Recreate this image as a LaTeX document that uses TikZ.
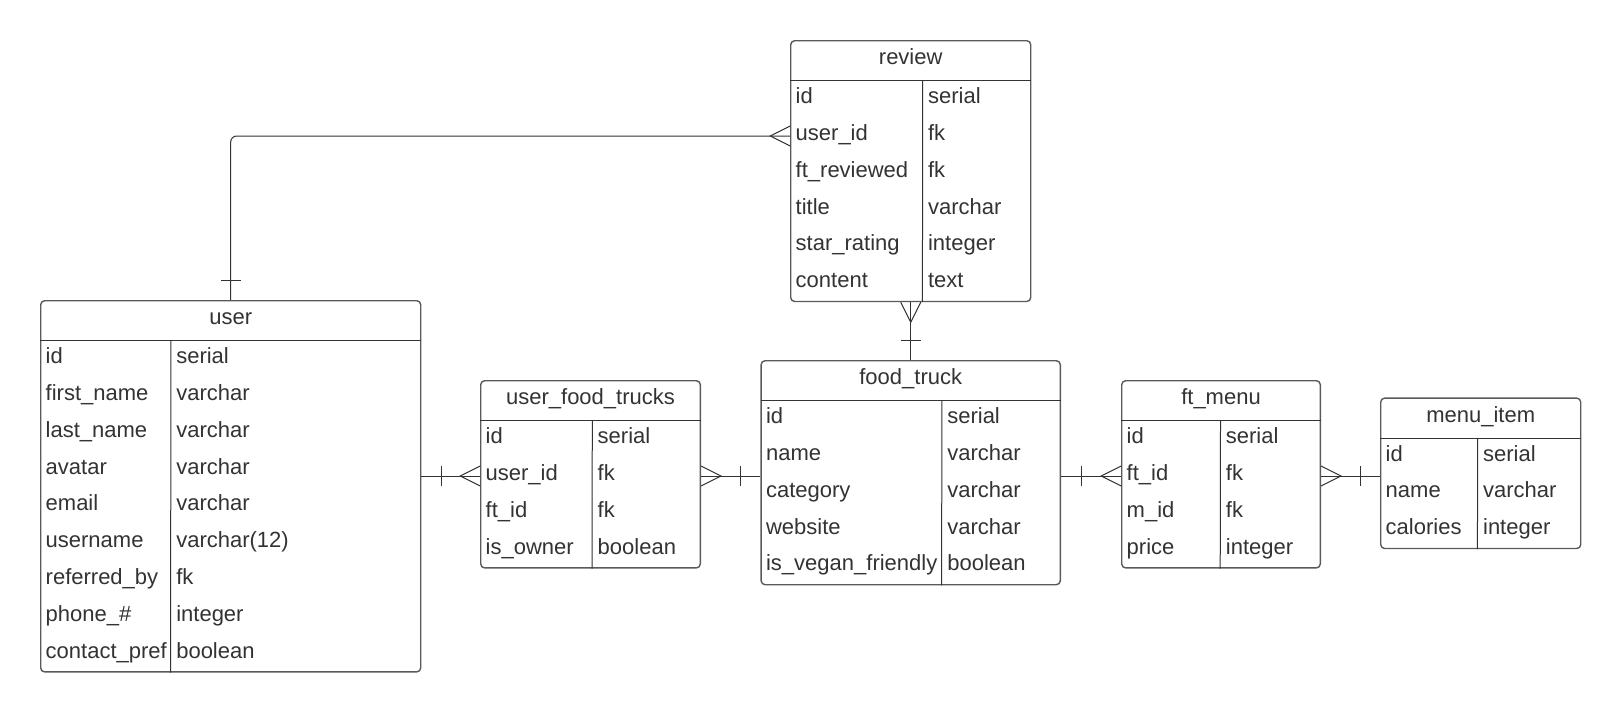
\documentclass[tikz,border=0pt]{standalone}
\usepackage{fontspec}
\setmainfont{Liberation Sans}
\usepackage{tikz}
\usetikzlibrary{positioning, decorations.markings}

\definecolor{inkc}{HTML}{333333}
\definecolor{framec}{HTML}{5A5A5A}

\tikzset{
  erfont/.style={font=\fontsize{11}{13}\selectfont, text=inkc, text height=8pt, text depth=3.5pt, inner sep=0pt},
  tblbox/.style={draw=framec, line width=0.7pt, rounded corners=2pt, inner sep=0pt},
  tbltitle/.style={erfont, minimum height=20pt},
  rowcell/.style={inner sep=0pt, outer sep=0pt, minimum height=18.4pt},
  field/.style={erfont, anchor=west},
  divider/.style={draw=inkc, line width=0.5pt},
  onemany/.style={draw=inkc, line width=0.5pt, rounded corners=3pt, postaction={decorate},
    decoration={markings,
      mark=at position 10pt with {\draw[inkc, line width=0.5pt, sharp corners] (0,-5pt) -- (0,5pt);},
      mark=at position -10pt with {\draw[inkc, line width=0.5pt, sharp corners] (10pt,5pt) -- (0,0) -- (10pt,-5pt);}}}
}

% #1 name, #2 top left, #3 width, #4 key column, #5 rows, #6 title, #7 fields
\newcommand{\ertable}[7]{%
  \node[tblbox, anchor=north west, minimum width=#3, minimum height={20pt+#5*18.4pt}] (#1) at #2 {};
  \node[tbltitle, anchor=north, minimum width=#3] (#1-title) at (#1.north) {#6};
  \draw[divider] (#1-title.south west) -- (#1-title.south east);
  \foreach \fname/\ftype [count=\i] in {#7} {
    \node[rowcell, anchor=north west, minimum width=#4] (#1-\i) at ([yshift={-(\i-1)*18.4pt}]#1-title.south west) {};
    \node[field] at ([xshift=2.5pt]#1-\i.west) {\fname};
    \node[field] at ([xshift=2.5pt]#1-\i.east) {\ftype};
  }
  \draw[divider] ([xshift=#4]#1-title.south west) -- ([xshift=#4]#1.south west);
}

\begin{document}
\begin{tikzpicture}[x=1pt, y=1pt]
	\path[use as bounding box, fill=white] (0,0) rectangle (810,-356.5);
	
	% Define tables
	\ertable{user}{(20,-150)}{190pt}{65.3pt}{9}{user}{id/serial, first\_name/varchar, last\_name/varchar, avatar/varchar, email/varchar, username/varchar(12), referred\_by/fk, phone\_\#/integer, contact\_pref/boolean}
	\ertable{uft}{(240,-190)}{109.8pt}{56pt}{4}{user\_food\_trucks}{id/serial, user\_id/fk, ft\_id/fk, is\_owner/boolean}
	\ertable{review}{(395,-20)}{120pt}{66.2pt}{6}{review}{id/serial, user\_id/fk, ft\_reviewed/fk, title/varchar, star\_rating/integer, content/text}
	\ertable{truck}{(380.2,-180)}{149.6pt}{90.6pt}{5}{food\_truck}{id/serial, name/varchar, category/varchar, website/varchar, is\_vegan\_friendly/boolean}
	\ertable{ftmenu}{(560.5,-190)}{99.3pt}{49.6pt}{4}{ft\_menu}{id/serial, ft\_id/fk, m\_id/fk, price/integer}
	\ertable{menuitem}{(690,-198.7)}{100pt}{48.7pt}{3}{menu\_item}{id/serial, name/varchar, calories/integer}
	
	% Relations, drawn from the one side to the many side
	\draw[onemany] (user.north) |- (review-2.west);
	\draw[onemany] (user.east |- uft-2.west) -- (uft-2.west);
	\draw[onemany] (truck.west |- uft-2.east) -- (uft.east |- uft-2.east);
	\draw[onemany] (truck.north) -- (review.south);
	\draw[onemany] (truck.east |- ftmenu-2.west) -- (ftmenu-2.west);
	\draw[onemany] (menuitem.west |- ftmenu-2.east) -- (ftmenu.east |- ftmenu-2.east);
	
\end{tikzpicture}
\end{document}
